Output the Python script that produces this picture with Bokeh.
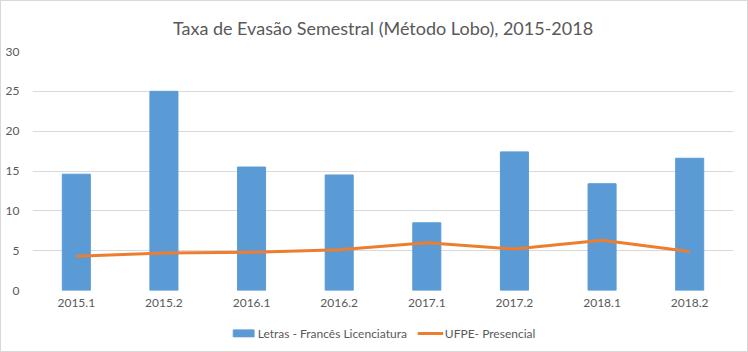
from bokeh.plotting import figure
from bokeh.layouts import column
from bokeh.models import ColumnDataSource, Legend, LegendItem, FactorRange, Range1d, SingleIntervalTicker
from bokeh.embed import file_html
from bokeh.resources import INLINE

semesters = ["2015.1", "2015.2", "2016.1", "2016.2", "2017.1", "2017.2", "2018.1", "2018.2"]
letras_frances = [14.6, 25.0, 15.5, 14.5, 8.5, 17.4, 13.4, 16.6]
ufpe_presencial = [4.3, 4.7, 4.8, 5.1, 6.0, 5.2, 6.3, 4.9]

FONT = "Lato"
GRAY = "#595959"
BLUE = "#5b9bd5"
ORANGE = "#ed7d31"

src = ColumnDataSource(dict(x=semesters, bar=letras_frances, line=ufpe_presencial))

p = figure(width=746, height=313, x_range=FactorRange(*semesters, range_padding=0),
           y_range=Range1d(0, 30), output_backend="svg", toolbar_location=None,
           title="Taxa de Evasão Semestral (Método Lobo), 2015-2018",
           min_border_left=31, min_border_right=14, min_border_top=49, min_border_bottom=24)
p.outline_line_color = None
p.background_fill_color = "white"
p.border_fill_color = "white"

p.title.align = "center"
p.title.text_font = FONT
p.title.text_font_size = "18px"
p.title.text_font_style = "normal"
p.title.text_color = GRAY
p.title.offset = 0
p.title.standoff = 26

p.vbar(x="x", top="bar", width=0.32, source=src, color=BLUE)
p.line(x="x", y="line", source=src, line_color=ORANGE, line_width=3, line_join="round")

p.xgrid.grid_line_color = None
p.ygrid.grid_line_color = "#d9d9d9"
p.yaxis.ticker = SingleIntervalTicker(interval=5)
for ax in (p.xaxis[0], p.yaxis[0]):
    ax.axis_line_color = None
    ax.major_tick_line_color = None
    ax.minor_tick_line_color = None
    ax.major_tick_out = 0
    ax.minor_tick_out = 0
    ax.major_label_text_font = FONT
    ax.major_label_text_font_size = "12px"
    ax.major_label_text_color = GRAY
p.yaxis.major_label_standoff = 13
p.xaxis.major_label_standoff = 8

# legend strip below the chart (its renderers share the data but sit outside the strip's view)
pl = figure(width=746, height=37, x_range=FactorRange(*semesters), y_range=Range1d(1000, 1001),
            output_backend="svg", toolbar_location=None,
            min_border_left=0, min_border_right=0, min_border_top=0, min_border_bottom=0,
            x_axis_location=None, y_axis_location=None)
pl.outline_line_color = None
pl.grid.grid_line_color = None
lb = pl.vbar(x="x", top="bar", width=0.32, source=src, color=BLUE)
ll = pl.line(x="x", y="line", source=src, line_color=ORANGE, line_width=3)
legend = Legend(items=[LegendItem(label="Letras - Francês Licenciatura", renderers=[lb]),
                       LegendItem(label="UFPE- Presencial", renderers=[ll])],
                orientation="horizontal", location="center",
                label_text_font=FONT, label_text_font_size="12px", label_text_color=GRAY,
                glyph_width=26, glyph_height=9, spacing=10, label_standoff=2,
                border_line_color=None, background_fill_alpha=0, margin=0, padding=2)
pl.add_layout(legend)

layout = column(p, pl, spacing=0, styles={"border": "1px solid #d9d9d9"})
open("out.html", "w").write(file_html(layout, INLINE))
